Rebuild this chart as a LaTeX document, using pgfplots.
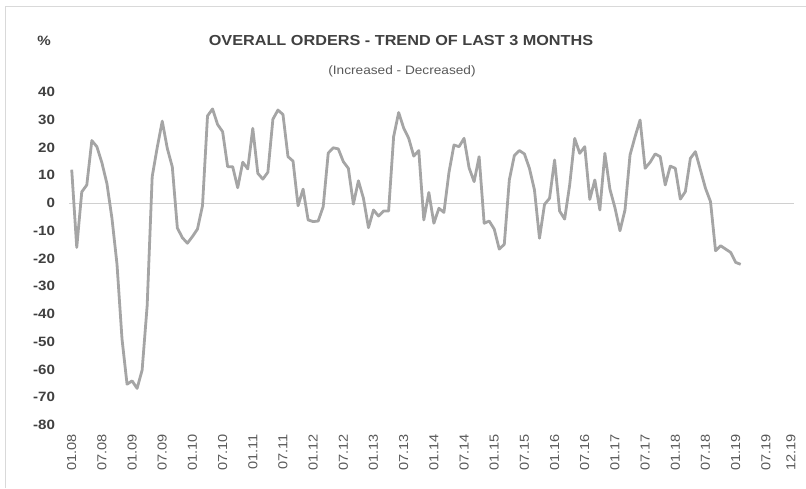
\documentclass[border=0pt]{standalone}
\usepackage{fontspec}
\setmainfont{Liberation Sans}[FakeStretch=1.12]
\usepackage{pgfplots}
\pgfplotsset{compat=1.18}
\definecolor{linegray}{HTML}{A5A5A5}
\definecolor{zerogray}{HTML}{D0D0D0}
\definecolor{framegray}{HTML}{D9D9D9}
\definecolor{txtdark}{HTML}{404040}
\definecolor{txtmid}{HTML}{595959}
\begin{document}
\begin{tikzpicture}
\useasboundingbox (0,0) rectangle (806pt,488pt);
\draw[framegray, line width=1pt] (5pt,0pt) -- (5pt,481pt) -- (806pt,481pt);
\node[txtdark, font=\fontsize{14.5}{17}\bfseries\selectfont] at (401pt,447pt) {OVERALL ORDERS - TREND OF LAST 3 MONTHS};
\node[txtmid, font=\fontsize{12.2}{15}\selectfont] at (402pt,417pt) {(Increased - Decreased)};
\node[txtdark, font=\fontsize{13.5}{16}\bfseries\selectfont] at (44pt,447pt) {\%};
\begin{axis}[
  at={(69.2pt,63pt)}, anchor=south west,
  scale only axis, width=724.3pt, height=333pt,
  xmin=-0.5, xmax=143.5, ymin=-80, ymax=40,
  axis line style={draw=none}, major tick length=0pt,
  clip=false,
  xtick={0,6,12,18,24,30,36,42,48,54,60,66,72,78,84,90,96,102,108,114,120,126,132,138,143},
  xticklabels={01.08,07.08,01.09,07.09,01.10,07.10,01.11,07.11,01.12,07.12,01.13,07.13,01.14,07.14,01.15,07.15,01.16,07.16,01.17,07.17,01.18,07.18,01.19,07.19,12.19},
  x tick label style={rotate=90, anchor=east, inner sep=0pt, xshift=-9pt, text=txtmid, font=\fontsize{13}{15}\selectfont},
  ytick={-80,-70,...,40},
  y tick label style={anchor=east, inner sep=0pt, xshift=-14pt, text=txtdark, font=\fontsize{13.5}{16}\bfseries\selectfont},
  /pgf/number format/assume math mode=true,
]
\draw[zerogray, line width=1pt] (axis cs:-0.5,0) -- (axis cs:143.5,0);
\addplot[linegray, line width=2.8pt, line join=round, mark=none] coordinates {
(0,12) (1,-16) (2,4) (3,6.5) (4,22.5) (5,20.3) (6,14.5) (7,7) (8,-5.5) (9,-22)
(10,-49) (11,-65.3) (12,-64.1) (13,-66.8) (14,-60.2) (15,-37) (16,9.5) (17,20) (18,29.5) (19,19.7)
(20,13) (21,-9) (22,-12.5) (23,-14.5) (24,-12.1) (25,-9.4) (26,-1) (27,31.4) (28,33.9) (29,28.3)
(30,25.7) (31,13.1) (32,13.1) (33,5.5) (34,14.7) (35,12.3) (36,26.9) (37,10.7) (38,8.6) (39,11.1)
(40,30.2) (41,33.5) (42,31.9) (43,16.7) (44,15.1) (45,-1) (46,5) (47,-6.1) (48,-6.7) (49,-6.5)
(50,-1.3) (51,18) (52,19.9) (53,19.5) (54,14.9) (55,12.5) (56,-0.4) (57,8) (58,1.7) (59,-8.9)
(60,-2.5) (61,-4.7) (62,-2.9) (63,-2.9) (64,23.9) (65,32.6) (66,27) (67,23.3) (68,16.9) (69,18.9)
(70,-6.1) (71,3.8) (72,-7.3) (73,-1.9) (74,-3.4) (75,11) (76,20.9) (77,20.3) (78,23.3) (79,12.7)
(80,7.7) (81,16.7) (82,-7.3) (83,-6.5) (84,-9.4) (85,-16.6) (86,-14.9) (87,8.3) (88,17.1) (89,18.9)
(90,17.7) (91,12.5) (92,4.7) (93,-12.7) (94,-0.5) (95,1.7) (96,15.5) (97,-2.9) (98,-5.8) (99,6.5)
(100,23.3) (101,17.9) (102,20.3) (103,1.3) (104,8.3) (105,-2.5) (106,17.9) (107,5) (108,-1.7) (109,-10)
(110,-2.5) (111,17.3) (112,23.9) (113,29.9) (114,12.5) (115,14.7) (116,17.7) (117,16.7) (118,6.5) (119,13.3)
(120,12.5) (121,1.4) (122,4.1) (123,16.1) (124,18.5) (125,11.9) (126,5.3) (127,0.5) (128,-17.2) (129,-15.4)
(130,-16.6) (131,-17.8) (132,-21.4) (133,-22.1)
};
\end{axis}
\end{tikzpicture}
\end{document}
